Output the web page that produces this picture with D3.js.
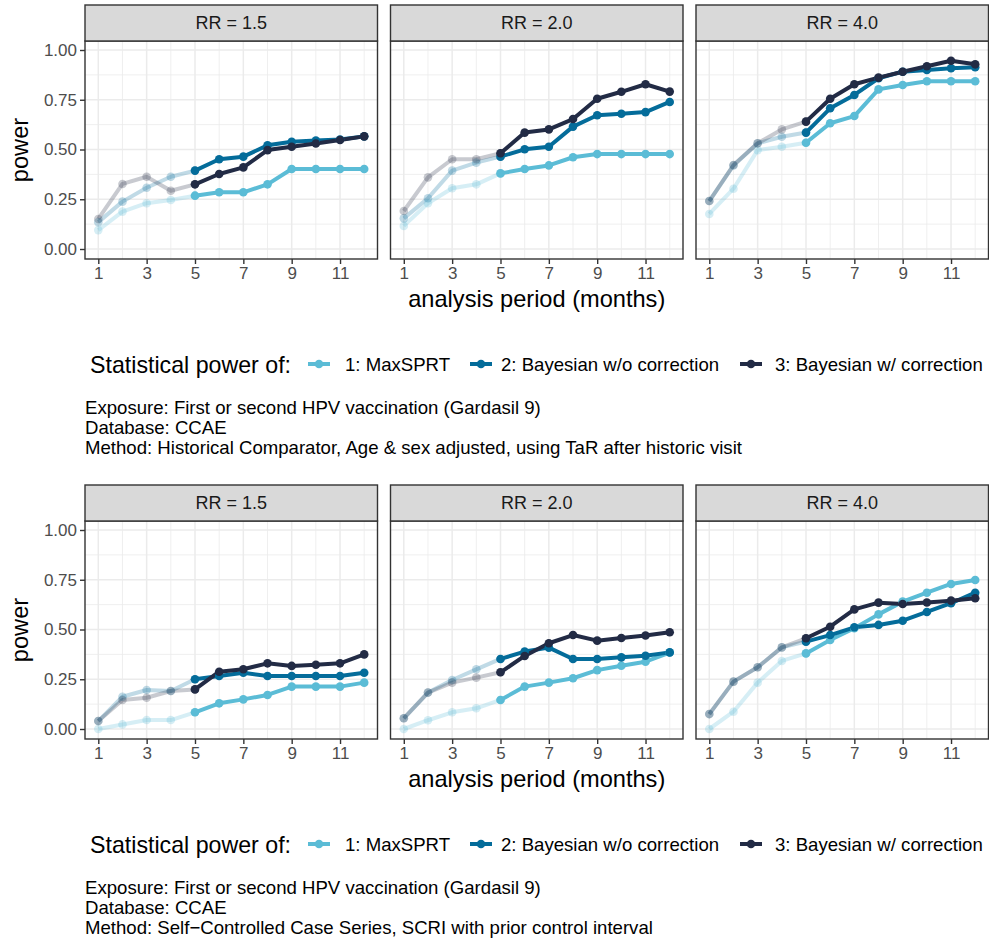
<!DOCTYPE html>
<html>
<head>
<meta charset="utf-8">
<script src="https://cdn.jsdelivr.net/npm/d3@7"></script>
<style>
  html, body { margin: 0; padding: 0; background: #ffffff; }
  svg { display: block; font-family: "Liberation Sans", Arial, Helvetica, sans-serif; }
</style>
</head>
<body>
<svg id="chart" width="989" height="941"></svg>
<script>
// ---------------- DATA ----------------
const months = [1, 2, 3, 4, 5, 6, 7, 8, 9, 10, 11, 12];
const facetLabels = ["RR = 1.5", "RR = 2.0", "RR = 4.0"];
const seriesNames = ["1: MaxSPRT", "2: Bayesian w/o correction", "3: Bayesian w/ correction"];
const seriesColors = ["#5BBCD6", "#046C9A", "#222B45"];
const xTicks = [1, 3, 5, 7, 9, 11];
const xMinor = [2, 4, 6, 8, 10, 12];
const yTicks = [0, 0.25, 0.5, 0.75, 1];
const yMinor = [0.125, 0.375, 0.625, 0.875];
const legendTitle = "Statistical power of:";
const xTitle = "analysis period (months)";
const yTitle = "power";

// Top: Historical Comparator
const hc_s1_rr15 = [0.095, 0.188, 0.230, 0.246, 0.268, 0.285, 0.285, 0.325, 0.402, 0.402, 0.402, 0.402];
const hc_s2_rr15 = [0.135, 0.238, 0.308, 0.363, 0.394, 0.451, 0.464, 0.521, 0.539, 0.545, 0.550, 0.566];
const hc_s3_rr15 = [0.151, 0.327, 0.363, 0.293, 0.325, 0.377, 0.410, 0.497, 0.514, 0.530, 0.548, 0.566];
const hc_s1_rr20 = [0.116, 0.230, 0.305, 0.325, 0.380, 0.402, 0.420, 0.461, 0.477, 0.477, 0.477, 0.477];
const hc_s2_rr20 = [0.154, 0.255, 0.394, 0.434, 0.464, 0.501, 0.514, 0.615, 0.672, 0.680, 0.688, 0.739];
const hc_s3_rr20 = [0.191, 0.360, 0.451, 0.451, 0.481, 0.585, 0.601, 0.653, 0.755, 0.790, 0.828, 0.791];
const hc_s1_rr40 = [0.176, 0.303, 0.497, 0.514, 0.534, 0.632, 0.668, 0.802, 0.824, 0.843, 0.843, 0.843];
const hc_s2_rr40 = [0.241, 0.420, 0.531, 0.564, 0.585, 0.707, 0.774, 0.858, 0.891, 0.900, 0.908, 0.913];
const hc_s3_rr40 = [0.241, 0.422, 0.531, 0.601, 0.640, 0.755, 0.828, 0.861, 0.891, 0.918, 0.946, 0.928];
const hcCaption = [
  "Exposure: First or second HPV vaccination (Gardasil 9)",
  "Database: CCAE",
  "Method: Historical Comparator, Age & sex adjusted, using TaR after historic visit"
];

// Bottom: Self-Controlled Case Series
const sc_s1_rr15 = [0.000, 0.023, 0.045, 0.045, 0.084, 0.129, 0.149, 0.171, 0.213, 0.213, 0.213, 0.233];
const sc_s2_rr15 = [0.040, 0.162, 0.196, 0.191, 0.250, 0.266, 0.283, 0.266, 0.266, 0.266, 0.266, 0.283];
const sc_s3_rr15 = [0.040, 0.146, 0.157, 0.191, 0.199, 0.288, 0.300, 0.330, 0.317, 0.323, 0.330, 0.375];
const sc_s1_rr20 = [0.000, 0.044, 0.084, 0.104, 0.146, 0.213, 0.233, 0.255, 0.296, 0.318, 0.338, 0.384];
const sc_s2_rr20 = [0.054, 0.183, 0.246, 0.300, 0.352, 0.389, 0.409, 0.352, 0.352, 0.360, 0.368, 0.385];
const sc_s3_rr20 = [0.054, 0.183, 0.233, 0.258, 0.285, 0.367, 0.431, 0.472, 0.444, 0.457, 0.470, 0.486];
const sc_s1_rr40 = [0.000, 0.087, 0.233, 0.342, 0.380, 0.447, 0.506, 0.576, 0.640, 0.685, 0.729, 0.749];
const sc_s2_rr40 = [0.075, 0.238, 0.310, 0.410, 0.439, 0.472, 0.511, 0.523, 0.544, 0.588, 0.632, 0.685];
const sc_s3_rr40 = [0.075, 0.238, 0.310, 0.410, 0.456, 0.514, 0.601, 0.635, 0.628, 0.636, 0.645, 0.657];
const scCaption = [
  "Exposure: First or second HPV vaccination (Gardasil 9)",
  "Database: CCAE",
  "Method: Self\u2212Controlled Case Series, SCRI with prior control interval"
];

const fadeUntil = 5; // analysis periods 1..5 drawn faded

// ---------------- LAYOUT ----------------
const svg = d3.select("#chart");
const facetLeft = [85, 390.5, 696];
const facetWidth = 292.5;
const stripTop = 5, stripBottom = 41, panelBottom = 259;

const plots = [
  { offset: 0, facets: [[hc_s1_rr15, hc_s2_rr15, hc_s3_rr15], [hc_s1_rr20, hc_s2_rr20, hc_s3_rr20], [hc_s1_rr40, hc_s2_rr40, hc_s3_rr40]], caption: hcCaption },
  { offset: 480, facets: [[sc_s1_rr15, sc_s2_rr15, sc_s3_rr15], [sc_s1_rr20, sc_s2_rr20, sc_s3_rr20], [sc_s1_rr40, sc_s2_rr40, sc_s3_rr40]], caption: scCaption }
];

const grid = "#EBEBEB", dark = "#333333", tickText = "#4D4D4D";

plots.forEach(p => {
  const g = svg.append("g").attr("transform", `translate(0,${p.offset})`);
  const y = d3.scaleLinear().domain([0, 1]).range([249, 50]);

  p.facets.forEach((fs, fi) => {
    const x0 = facetLeft[fi];
    const x = d3.scaleLinear().domain([0.45, 12.55]).range([x0, x0 + facetWidth]);
    const fg = g.append("g");

    fg.append("rect").attr("x", x0).attr("y", stripBottom).attr("width", facetWidth)
      .attr("height", panelBottom - stripBottom).attr("fill", "#fff");

    // minor grid
    fg.selectAll(".ymin").data(yMinor).enter().append("line")
      .attr("x1", x0).attr("x2", x0 + facetWidth).attr("y1", d => y(d)).attr("y2", d => y(d))
      .attr("stroke", grid).attr("stroke-width", 0.8);
    fg.selectAll(".xmin").data(xMinor).enter().append("line")
      .attr("y1", stripBottom).attr("y2", panelBottom).attr("x1", d => x(d)).attr("x2", d => x(d))
      .attr("stroke", grid).attr("stroke-width", 0.8);
    // major grid
    fg.selectAll(".ymaj").data(yTicks).enter().append("line")
      .attr("x1", x0).attr("x2", x0 + facetWidth).attr("y1", d => y(d)).attr("y2", d => y(d))
      .attr("stroke", grid).attr("stroke-width", 1.5);
    fg.selectAll(".xmaj").data(xTicks).enter().append("line")
      .attr("y1", stripBottom).attr("y2", panelBottom).attr("x1", d => x(d)).attr("x2", d => x(d))
      .attr("stroke", grid).attr("stroke-width", 1.5);

    const line = d3.line().x(d => x(d.m)).y(d => y(d.v));
    const seriesData = fs.map((vals, si) => months.map((m, i) => ({ m, v: vals[i], si })));
    const early = seriesData.map(s => s.filter(d => d.m <= fadeUntil));
    const late = seriesData.map(s => s.filter(d => d.m >= fadeUntil));

    const marks = fg.append("g");
    early.forEach((s, si) => {
      marks.append("path").attr("d", line(s)).attr("fill", "none")
        .attr("stroke", seriesColors[si]).attr("stroke-width", 4).attr("stroke-opacity", 0.25)
        .attr("stroke-linejoin", "round").attr("stroke-linecap", "butt");
    });
    early.forEach((s, si) => {
      marks.selectAll(null).data(s).enter().append("circle")
        .attr("cx", d => x(d.m)).attr("cy", d => y(d.v)).attr("r", 4.3)
        .attr("fill", seriesColors[si]).attr("fill-opacity", 0.25);
    });
    late.forEach((s, si) => {
      marks.append("path").attr("d", line(s)).attr("fill", "none")
        .attr("stroke", seriesColors[si]).attr("stroke-width", 4)
        .attr("stroke-linejoin", "round").attr("stroke-linecap", "butt");
    });
    late.forEach((s, si) => {
      marks.selectAll(null).data(s).enter().append("circle")
        .attr("cx", d => x(d.m)).attr("cy", d => y(d.v)).attr("r", 4.3)
        .attr("fill", seriesColors[si]);
    });

    // panel border
    fg.append("rect").attr("x", x0).attr("y", stripBottom).attr("width", facetWidth)
      .attr("height", panelBottom - stripBottom).attr("fill", "none").attr("stroke", dark).attr("stroke-width", 1.4);

    // strip
    fg.append("rect").attr("x", x0).attr("y", stripTop).attr("width", facetWidth)
      .attr("height", stripBottom - stripTop).attr("fill", "#D9D9D9").attr("stroke", dark).attr("stroke-width", 1.4);
    fg.append("text").attr("x", x0 + facetWidth / 2).attr("y", (stripTop + stripBottom) / 2 + 6.3)
      .attr("text-anchor", "middle").attr("font-size", 18).attr("fill", "#1A1A1A").text(facetLabels[fi]);

    // x axis
    const xa = fg.append("g").attr("transform", `translate(0,${panelBottom})`)
      .call(d3.axisBottom(x).tickValues(xTicks).tickFormat(d3.format("d")).tickSize(5).tickPadding(3));
    xa.select(".domain").remove();
    xa.selectAll(".tick line").attr("stroke", dark).attr("stroke-width", 1.4);
    xa.selectAll(".tick text").attr("font-size", 17).attr("fill", tickText).attr("font-family", null);

    if (fi === 0) {
      const ya = fg.append("g").attr("transform", `translate(${x0},0)`)
        .call(d3.axisLeft(y).tickValues(yTicks).tickFormat(d3.format(".2f")).tickSize(5).tickPadding(3));
      ya.select(".domain").remove();
      ya.selectAll(".tick line").attr("stroke", dark).attr("stroke-width", 1.4);
      ya.selectAll(".tick text").attr("font-size", 17).attr("fill", tickText).attr("font-family", null);
    }
  });

  // axis titles
  g.append("text").attr("x", (facetLeft[0] + facetLeft[2] + facetWidth) / 2).attr("y", 307)
    .attr("text-anchor", "middle").attr("font-size", 23.6).attr("fill", "#000").text(xTitle);
  g.append("text").attr("transform", `translate(28,150) rotate(-90)`)
    .attr("text-anchor", "middle").attr("font-size", 23.6).attr("fill", "#000").text(yTitle);

  // legend
  const ly = 364;
  const lg = g.append("g");
  lg.append("text").attr("x", 90).attr("y", ly + 8.5).attr("font-size", 23.2).attr("fill", "#000").text(legendTitle);
  const keyCenters = [319, 481, 751];
  const labelStarts = [345, 501, 775];
  seriesNames.forEach((n, i) => {
    lg.append("line").attr("x1", keyCenters[i] - 11).attr("x2", keyCenters[i] + 11)
      .attr("y1", ly).attr("y2", ly).attr("stroke", seriesColors[i]).attr("stroke-width", 4);
    lg.append("circle").attr("cx", keyCenters[i]).attr("cy", ly).attr("r", 4.3).attr("fill", seriesColors[i]);
    lg.append("text").attr("x", labelStarts[i]).attr("y", ly + 6.8).attr("font-size", 18.6)
      .attr("fill", "#000").text(n);
  });

  // caption
  p.caption.forEach((c, i) => {
    g.append("text").attr("x", 85).attr("y", 414 + i * 20).attr("font-size", 18.6)
      .attr("fill", "#000").text(c);
  });
});
</script>
</body>
</html>
